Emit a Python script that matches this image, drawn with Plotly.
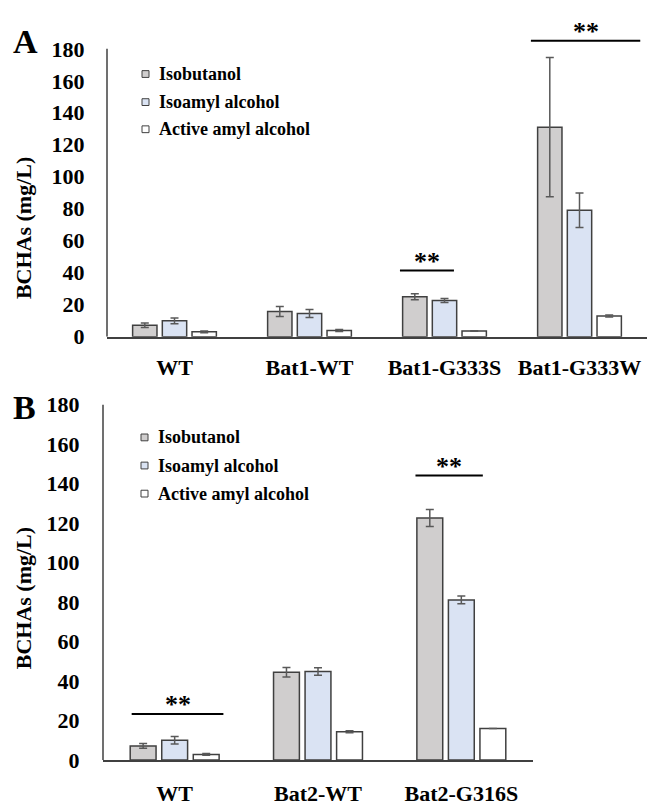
import plotly.graph_objects as go

# ---------------- data ----------------
series_names = ["Isobutanol", "Isoamyl alcohol", "Active amyl alcohol"]
series_colors = ["#D0CECE", "#DAE3F3", "#FFFFFF"]

cats_a = ["WT", "Bat1-WT", "Bat1-G333S", "Bat1-G333W"]
isobutanol_a = [7.1, 15.7, 25.0, 131.0]
isobutanol_a_err = [1.4, 3.1, 1.9, 43.5]
isoamyl_a = [9.9, 14.5, 22.6, 79.1]
isoamyl_a_err = [1.8, 2.5, 1.2, 10.8]
active_a = [3.0, 3.8, 3.5, 12.9]
active_a_err = [0.5, 0.6, 0.2, 0.6]

cats_b = ["WT", "Bat2-WT", "Bat2-G316S"]
isobutanol_b = [7.2, 44.5, 122.5]
isobutanol_b_err = [1.2, 2.4, 4.3]
isoamyl_b = [10.1, 44.9, 81.1]
isoamyl_b_err = [1.9, 1.9, 2.0]
active_b = [2.9, 14.3, 16.0]
active_b_err = [0.4, 0.5, 0.0]

# significance markers: (category index, left offset, right offset, line level)
sig_a = [(2, -0.33, 0.07, 41.3), (3, -0.36, 0.45, 185.0)]
sig_b = [(0, -0.30, 0.34, 23.3), (2, -0.32, 0.15, 144.0)]
sig_text = "**"

y_ticks = [0, 20, 40, 60, 80, 100, 120, 140, 160, 180]
y_title = "BCHAs (mg/L)"

# ---------------- layout helpers ----------------
W, H = 647, 808
FONT = "Liberation Serif"
AXIS_COLOR = "#404040"
EDGE = "#404040"
ERR = "#595959"


def py(px):
    return 1 - px / H


def px_x(px):
    return px / W


fig = go.Figure()

panels = [
    dict(cats=cats_a,
         vals=[isobutanol_a, isoamyl_a, active_a],
         errs=[isobutanol_a_err, isoamyl_a_err, active_a_err],
         xa="x", ya="y"),
    dict(cats=cats_b,
         vals=[isobutanol_b, isoamyl_b, active_b],
         errs=[isobutanol_b_err, isoamyl_b_err, active_b_err],
         xa="x2", ya="y2"),
]

for p in panels:
    for name, color, v, e in zip(series_names, series_colors, p["vals"], p["errs"]):
        fig.add_trace(go.Bar(
            x=p["cats"], y=v, name=name, showlegend=False,
            marker=dict(color=color, line=dict(color=EDGE, width=1.5)),
            error_y=dict(type="data", array=e, color=ERR, thickness=1.5, width=4),
            xaxis=p["xa"], yaxis=p["ya"],
        ))

# axis domains (pixel based)
a_left, a_right, a_bottom, a_top_px = 107, 647, 335, 5
a_range_top = 200
b_left, b_right, b_bottom, b_top = 103, 533, 772, 405

tickfont = dict(family=FONT, size=22, color="black", weight="bold")

fig.update_layout(
    width=W, height=H,
    margin=dict(l=0, r=0, t=0, b=0),
    paper_bgcolor="white", plot_bgcolor="white",
    bargap=0.34, bargroupgap=0.18, barmode="group",
    font=dict(family=FONT, color="black"),
    xaxis=dict(domain=[px_x(a_left), px_x(a_right)], anchor="y",
               range=[-0.5, 3.5], showline=True, linecolor=AXIS_COLOR, linewidth=1.5,
               ticks="outside", ticklen=10, tickcolor="rgba(0,0,0,0)",
               tickfont=tickfont, showgrid=False, zeroline=False),
    yaxis=dict(domain=[py(a_bottom), py(a_top_px)], anchor="x",
               range=[0, a_range_top], tickvals=y_ticks, showline=False,
               ticks="outside", ticklen=17, tickcolor="rgba(0,0,0,0)",
               tickfont=tickfont, showgrid=False, zeroline=False),
    xaxis2=dict(domain=[px_x(b_left), px_x(b_right)], anchor="y2",
                range=[-0.5, 2.5], showline=True, linecolor=AXIS_COLOR, linewidth=1.5,
                ticks="outside", ticklen=13, tickcolor="rgba(0,0,0,0)",
                tickfont=tickfont, showgrid=False, zeroline=False),
    yaxis2=dict(domain=[py(b_bottom), py(b_top)], anchor="x2",
                range=[0, 180], tickvals=y_ticks, showline=False,
                ticks="outside", ticklen=18, tickcolor="rgba(0,0,0,0)",
                tickfont=tickfont, showgrid=False, zeroline=False),
)

shapes = []
annotations = []

# vertical y-axis lines up to 180
for xa, ya in [("x", "y"), ("x2", "y2")]:
    shapes.append(dict(type="line", xref=f"{xa} domain", yref=ya,
                       x0=0, x1=0, y0=0, y1=180,
                       line=dict(color=AXIS_COLOR, width=1.5)))

# significance lines and stars
for sigs, xa, ya in [(sig_a, "x", "y"), (sig_b, "x2", "y2")]:
    for idx, lo, hi, lvl in sigs:
        shapes.append(dict(type="line", xref=xa, yref=ya,
                           x0=idx + lo, x1=idx + hi, y0=lvl, y1=lvl,
                           line=dict(color="black", width=2)))
        annotations.append(dict(xref=xa, yref=ya, x=idx + (lo + hi) / 2, y=lvl,
                                text=sig_text, showarrow=False, yanchor="bottom",
                                yshift=-7, font=dict(family=FONT, size=26, color="black",
                                                     weight="bold")))

# manual legends
legend_pos = [
    (145.5, [64, 93, 121], 157),
    (144.5, [439, 468, 497], 156),
]
for cx, ys, tx in legend_pos:
    for name, color, yy in zip(series_names, series_colors, ys):
        shapes.append(dict(type="rect", xref="paper", yref="paper",
                           x0=px_x(cx - 3.5), x1=px_x(cx + 3.5),
                           y0=py(yy + 3.5), y1=py(yy - 3.5),
                           fillcolor=color, line=dict(color=EDGE, width=1)))
        annotations.append(dict(xref="paper", yref="paper", x=px_x(tx), y=py(yy),
                                xanchor="left", yanchor="middle", text=name,
                                showarrow=False,
                                font=dict(family=FONT, size=18, color="black",
                                          weight="bold")))

# axis titles
for yy in [223, 605]:
    annotations.append(dict(xref="paper", yref="paper", x=px_x(23), y=py(yy),
                            xanchor="center", yanchor="middle", textangle=-90,
                            text=y_title, showarrow=False,
                            font=dict(family=FONT, size=22, color="black", weight="bold")))

# panel letters
for letter, cx, cy in [("A", 25, 30), ("B", 24, 408)]:
    annotations.append(dict(xref="paper", yref="paper", x=px_x(cx), y=py(cy),
                            xanchor="center", yanchor="middle",
                            text=letter, showarrow=False,
                            font=dict(family=FONT, size=34, color="black", weight="bold")))

fig.update_layout(shapes=shapes, annotations=annotations)

fig.write_html("out.html",
               config={"displayModeBar": False},
               post_script="document.body.style.margin='0';document.body.style.padding='0';")
